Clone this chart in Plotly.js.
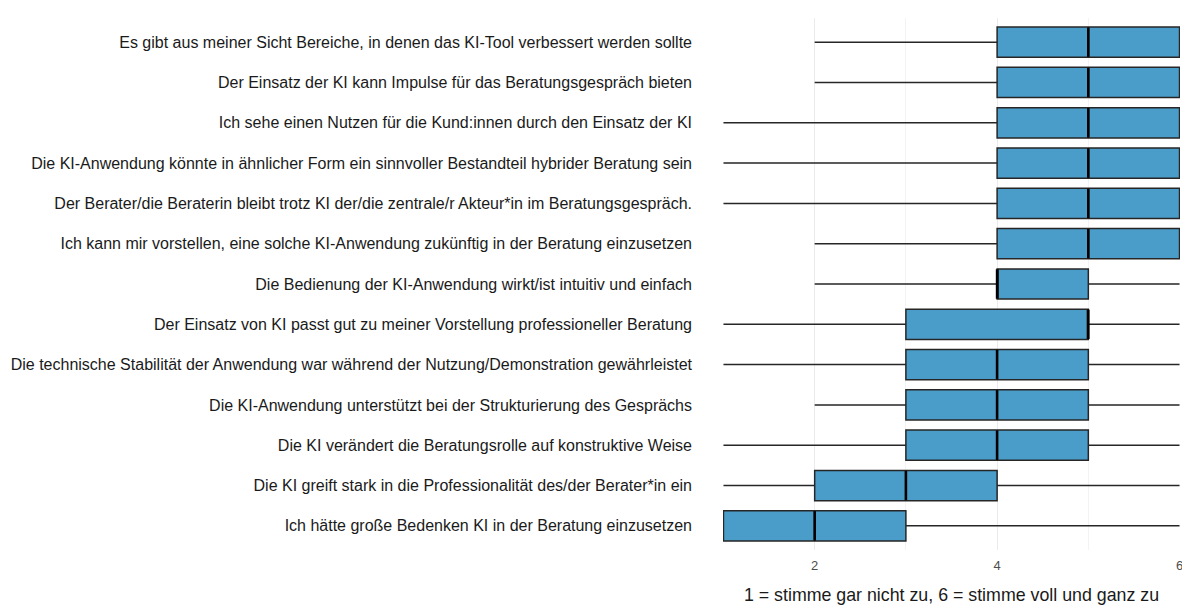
<!DOCTYPE html>
<html>
<head>
<meta charset="utf-8">
<script src="https://cdn.plot.ly/plotly-3.0.1.min.js"></script>
<style>html,body{margin:0;padding:0;background:#fff;}</style>
</head>
<body>
<div id="chart" style="width:1182px;height:605px;"></div>
<script>
const items = [
  "Es gibt aus meiner Sicht Bereiche, in denen das KI-Tool verbessert werden sollte",
  "Der Einsatz der KI kann Impulse für das Beratungsgespräch bieten",
  "Ich sehe einen Nutzen für die Kund:innen durch den Einsatz der KI",
  "Die KI-Anwendung könnte in ähnlicher Form ein sinnvoller Bestandteil hybrider Beratung sein",
  "Der Berater/die Beraterin bleibt trotz KI der/die zentrale/r Akteur*in im Beratungsgespräch.",
  "Ich kann mir vorstellen, eine solche KI-Anwendung zukünftig in der Beratung einzusetzen",
  "Die Bedienung der KI-Anwendung wirkt/ist intuitiv und einfach",
  "Der Einsatz von KI passt gut zu meiner Vorstellung professioneller Beratung",
  "Die technische Stabilität der Anwendung war während der Nutzung/Demonstration gewährleistet",
  "Die KI-Anwendung unterstützt bei der Strukturierung des Gesprächs",
  "Die KI verändert die Beratungsrolle auf konstruktive Weise",
  "Die KI greift stark in die Professionalität des/der Berater*in ein",
  "Ich hätte große Bedenken KI in der Beratung einzusetzen"
];
const minVals    = [2, 2, 1, 1, 1, 2, 2, 1, 1, 2, 1, 1, 1];
const q1Vals     = [4, 4, 4, 4, 4, 4, 4, 3, 3, 3, 3, 2, 1];
const medianVals = [5, 5, 5, 5, 5, 5, 4, 5, 4, 4, 4, 3, 2];
const q3Vals     = [6, 6, 6, 6, 6, 6, 5, 5, 5, 5, 5, 4, 3];
const maxVals    = [6, 6, 6, 6, 6, 6, 6, 6, 6, 6, 6, 6, 6];
const tickVals   = [2, 4, 6];
const xTitle = "1 = stimme gar nicht zu, 6 = stimme voll und ganz zu";

const boxTrace = {
  type: 'box',
  orientation: 'h',
  y: items,
  q1: q1Vals,
  median: medianVals,
  q3: q3Vals,
  lowerfence: minVals,
  upperfence: maxVals,
  width: 0.75,
  fillcolor: '#4a9dc9',
  line: {color: '#262626', width: 1.5},
  whiskerwidth: 0,
  boxpoints: false,
  hoverinfo: 'skip',
  showlegend: false
};
const medianTrace = {
  type: 'scatter',
  mode: 'markers',
  x: medianVals,
  y: items,
  marker: {symbol: 'line-ns', size: 21, line: {color: '#000', width: 2.6}},
  hoverinfo: 'skip',
  showlegend: false,
  cliponaxis: false
};

const layout = {
  width: 1182,
  height: 605,
  paper_bgcolor: '#fff',
  plot_bgcolor: '#fff',
  margin: {l: 723, r: 2, t: 18, b: 55},
  font: {family: 'Liberation Sans, Arial, sans-serif', color: '#1a1a1a'},
  xaxis: {
    range: [0.995, 6.005],
    tickvals: tickVals,
    ticktext: tickVals.map(String),
    tickfont: {size: 13, color: '#4d4d4d'},
    ticklabeloverflow: 'allow',
    ticks: 'outside', ticklen: 3, tickcolor: 'rgba(0,0,0,0)',
    showgrid: true, gridcolor: '#ebebeb', gridwidth: 1,
    minor: {tickvals: [1, 3, 5], showgrid: true, gridcolor: '#f3f3f3', gridwidth: 1},
    zeroline: false, showline: false,
    automargin: false,
    title: {text: xTitle, font: {size: 17.8, color: '#1a1a1a'}, standoff: 18}
  },
  yaxis: {
    type: 'category',
    categoryorder: 'array',
    categoryarray: items.slice().reverse(),
    range: [-0.6, 12.6],
    tickfont: {size: 16, color: '#1a1a1a'},
    ticklabelstandoff: 30,
    showgrid: false, zeroline: false, showline: false,
    automargin: false
  }
};

Plotly.newPlot('chart', [boxTrace, medianTrace], layout, {staticPlot: true, displayModeBar: false});
</script>
</body>
</html>
